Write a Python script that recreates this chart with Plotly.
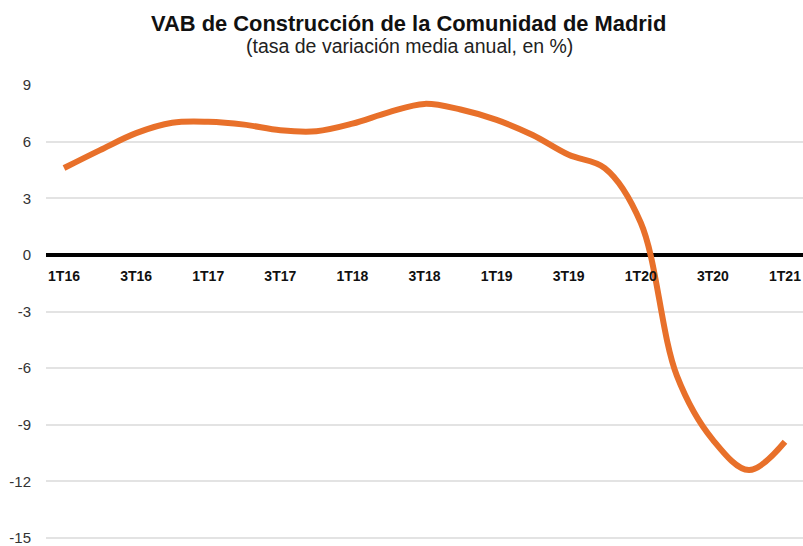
import plotly.graph_objects as go

quarters = ["1T16", "2T16", "3T16", "4T16", "1T17", "2T17", "3T17", "4T17",
            "1T18", "2T18", "3T18", "4T18", "1T19", "2T19", "3T19", "4T19",
            "1T20", "2T20", "3T20", "4T20", "1T21"]
values = [4.6, 5.55, 6.45, 7.0, 7.05, 6.9, 6.6, 6.55, 6.95, 7.55, 8.0, 7.7,
          7.15, 6.35, 5.3, 4.6, 1.7, -6.4, -9.8, -11.4, -9.9]
tick_labels = quarters[::2]
y_ticks = [9, 6, 3, 0, -3, -6, -9, -12, -15]
y_tick_text = ["9", "6", "3", "0", "-3", "-6", "-9", "-12", "-15"]

title_text = "VAB de Construcción de la Comunidad de Madrid"
subtitle_text = "(tasa de variación media anual, en %)"

x_idx = list(range(len(quarters)))

W, H = 803, 546
ML, MR, MT, MB = 46, 0, 85, 6
PH = H - MT - MB
PW = W - ML - MR
Y_TOP = 9
PX_PER_UNIT = 453 / 24
Y_BOTTOM = Y_TOP - PH / PX_PER_UNIT

def paper_y(fig_y):
    return (H - MB - fig_y) / PH

def paper_x(fig_x):
    return (fig_x - ML) / PW

FONT = "Liberation Sans, Arial, Helvetica, sans-serif"

fig = go.Figure()
fig.add_trace(go.Scatter(
    x=x_idx, y=values, mode="lines",
    line=dict(color="#E8702A", width=6, shape="spline", smoothing=1.0),
    hoverinfo="skip", showlegend=False,
))

fig.update_layout(
    width=W, height=H,
    margin=dict(l=ML, r=MR, t=MT, b=MB),
    paper_bgcolor="white", plot_bgcolor="white",
    font=dict(family=FONT, color="#222"),
    xaxis=dict(
        range=[-0.5, 20.5],
        tickvals=x_idx[::2], ticktext=tick_labels,
        tickfont=dict(size=14, color="#111", family=FONT, weight="bold"),
        anchor="free", position=(0 - Y_BOTTOM) / (Y_TOP - Y_BOTTOM),
        showgrid=False, showline=False, zeroline=False,
        ticks="", ticklabelstandoff=11, ticklabeloverflow="allow",
        automargin=False, fixedrange=True,
    ),
    yaxis=dict(
        range=[Y_BOTTOM, Y_TOP],
        tickvals=y_ticks, ticktext=y_tick_text,
        tickfont=dict(size=15, color="#333", family=FONT),
        showgrid=True, gridcolor="#e3e3e3", gridwidth=1.5,
        zeroline=True, zerolinecolor="#000", zerolinewidth=4,
        showline=False, ticks="", ticklabelstandoff=14,
        ticklabeloverflow="allow",
        automargin=False, fixedrange=True,
    ),
    annotations=[
        dict(text="<b>" + title_text + "</b>", xref="paper", yref="paper",
             x=paper_x(408), y=paper_y(23.5), xanchor="center", yanchor="middle",
             showarrow=False, font=dict(size=21.9, color="#111", family=FONT)),
        dict(text=subtitle_text, xref="paper", yref="paper",
             x=paper_x(409), y=paper_y(45.5), xanchor="center", yanchor="middle",
             showarrow=False, font=dict(size=19.5, color="#222", family=FONT)),
    ],
)

fig.write_html(
    "out.html",
    config={"displayModeBar": False, "staticPlot": False},
    post_script="document.body.style.margin='0';document.body.style.overflow='hidden';",
)
